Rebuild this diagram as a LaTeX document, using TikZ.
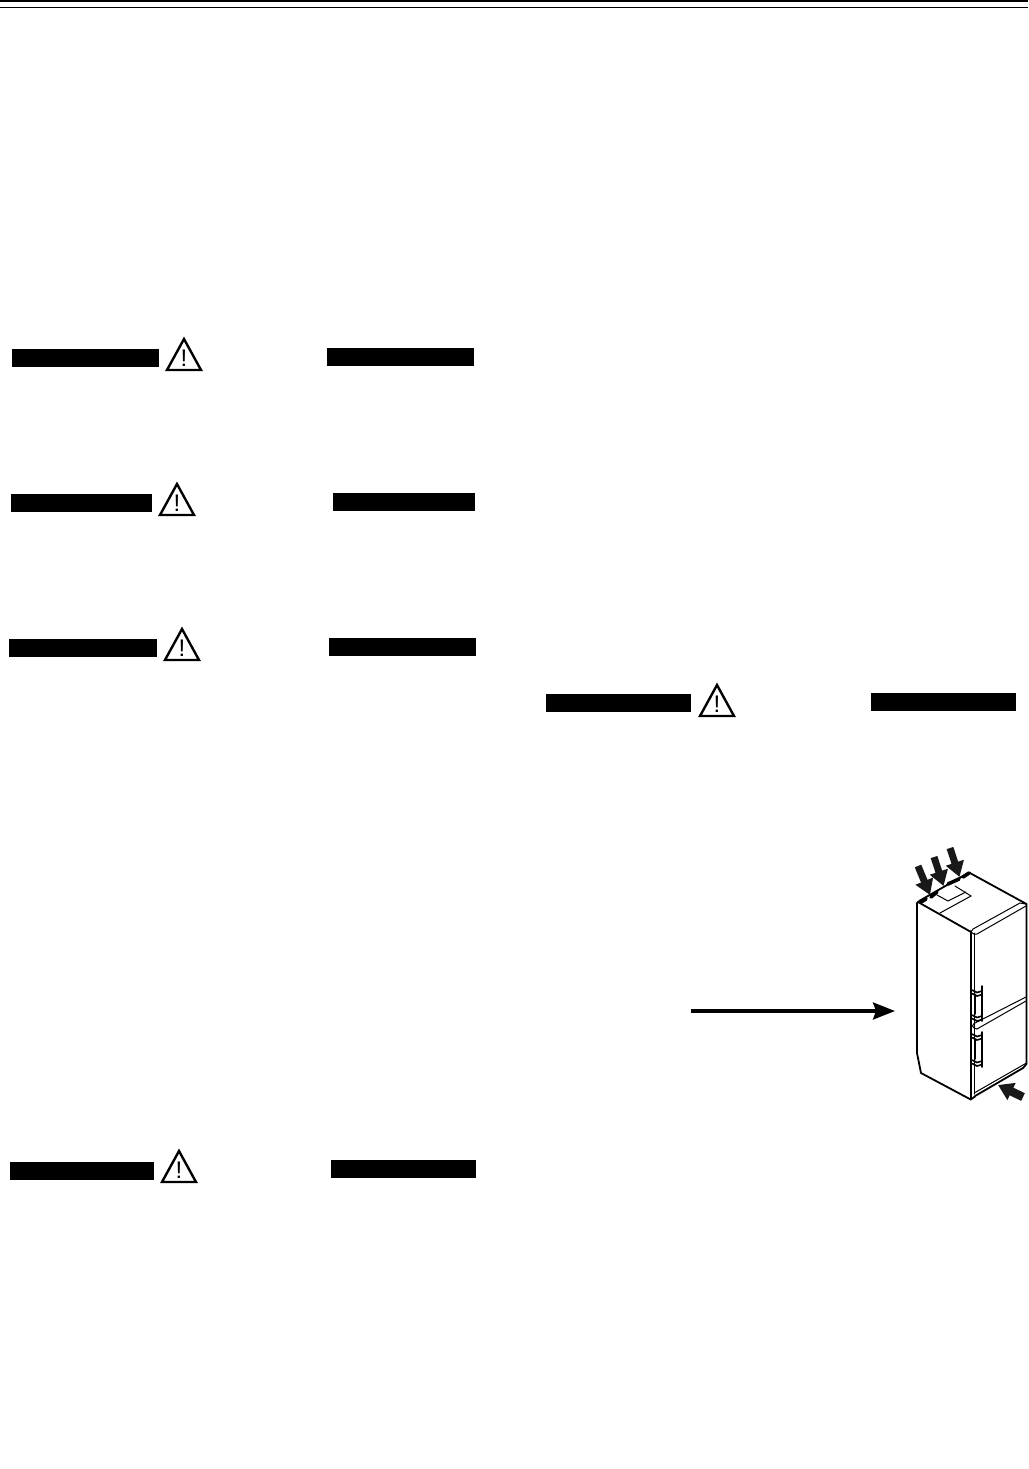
\documentclass[tikz,border=0pt]{standalone}
\usepackage{xcolor}
\usepackage{fontspec}
\setmainfont{Liberation Sans}
\usetikzlibrary{arrows.meta}
\tikzset{
 blackbar/.style={fill=black, inner sep=0pt, minimum height=18pt, anchor=north west},
 warnsign/.pic={
  \draw[line width=2.4pt, line join=miter] (0,-16) -- (17,15) -- (-17,15) -- cycle;
  \node[inner sep=0pt, font=\fontsize{24}{24}\selectfont] (-mark) at (0,3) {!};
 },
 outline/.style={line width=1.8pt, line join=round, line cap=round},
 thinline/.style={line width=1pt, line cap=round},
 hinge/.style={line width=3.6pt, line cap=round},
 pusharrow/.style={line width=7pt, -{Triangle[width=18pt,length=15pt]}, color=black!90},
}
\begin{document}
\begin{tikzpicture}[x=1pt, y=-1pt]
\useasboundingbox (0,0) rectangle (1028,1469);
\fill[white] (0,0) rectangle (1028,1469);

% page head rules
\coordinate (headL) at (0,1.2);
\coordinate (headR) at (1028,1.2);
\coordinate (subL) at (0,7.5);
\coordinate (subR) at (1028,7.5);
\draw[line width=2.4pt] (headL) -- (headR);
\draw[line width=1.1pt] (subL) -- (subR);

% left and right heading bars
\node[blackbar, minimum width=147pt] (barA) at (12,349) {};
\node[blackbar, minimum width=147pt] (barAr) at (327,348) {};
\node[blackbar, minimum width=141pt] (barB) at (11,494) {};
\node[blackbar, minimum width=142pt] (barBr) at (333,493) {};
\node[blackbar, minimum width=148pt] (barC) at (9,639) {};
\node[blackbar, minimum width=147pt] (barCr) at (329,638) {};
\node[blackbar, minimum width=145pt] (barD) at (546,694) {};
\node[blackbar, minimum width=145pt] (barDr) at (871,693) {};
\node[blackbar, minimum width=144pt] (barE) at (10,1162) {};
\node[blackbar, minimum width=145pt] (barEr) at (331,1160) {};

% warning signs
\pic (signA) at (184,355) {warnsign};
\pic (signB) at (177,500) {warnsign};
\pic (signC) at (182,645) {warnsign};
\pic (signD) at (717,701) {warnsign};
\pic (signE) at (179,1167) {warnsign};

% long arrow
\coordinate (longS) at (691,1011);
\coordinate (longE) at (895,1011);
\draw[line width=3.2pt, -{Stealth[width=17pt,length=22pt,inset=3pt]}] (longS) -- (longE);

% fridge body
\draw[outline] (917,1053) -- (917,903) -- (920,900.5) -- (969,872.5) -- (1026.5,904) -- (1026.5,1064);
\draw[outline] (917,1053) -- (921,1073) -- (970.7,1099.5) -- (975,1096.5);
\draw[outline] (971,931) -- (971,1099);
\draw[thinline] (974,933) -- (974,1094);
\draw[outline] (918,902) -- (971,932);

% top door edge
\draw[thinline] (971,932) -- (973,929) -- (1020,903) -- (1026,904);
\draw[thinline] (971,932) .. controls (973,934.5) and (975,934.5) .. (977,934) -- (1026,906);

% lid
\draw[thinline] (940,913) -- (971,896) -- (955,886);
\draw[thinline] (937,895) -- (948,901) -- (966,892);

% door gap and bottom
\draw[thinline] (1026,997) -- (974,1023.5) .. controls (972,1025) and (972,1027) .. (974,1028) -- (977,1029) -- (1026,1001);
\draw[thinline] (975,1092.5) -- (1026.5,1063);
\draw[outline] (975,1096) -- (1023,1068) -- (1026.5,1064);

% handles
\draw[outline] (982,986) -- (982,1021);
\draw[outline] (982,1032) -- (982,1067);
\draw[thinline] (975.5,994) -- (975.5,1014);
\draw[thinline] (975.5,1040) -- (975.5,1059);
\foreach \hy in {990,1015,1034,1060}
 {\draw[line width=1.6pt] (972,\hy) -- (977,\hy+2.5) -- (982,\hy+1);
  \draw[line width=1.6pt] (972,\hy+3.5) -- (977,\hy+6) -- (982,\hy+4.5);}

% hinge covers on top
\draw[hinge] (921,902) -- (926,899);
\draw[hinge] (931,897) -- (937,892);
\draw[hinge] (948,884) -- (959,879);
\draw[hinge] (963,877) -- (969,873);

% push arrows
\coordinate (pushAs) at (918,866);
\coordinate (pushAe) at (930,895);
\coordinate (pushBs) at (934,857);
\coordinate (pushBe) at (943.5,886);
\coordinate (pushCs) at (950,848);
\coordinate (pushCe) at (959.5,877);
\coordinate (pushDs) at (1023,1097);
\coordinate (pushDe) at (998,1085);
\foreach \s/\e in {pushAs/pushAe, pushBs/pushBe, pushCs/pushCe}
 \draw[pusharrow] (\s) -- (\e);
\draw[pusharrow, line width=8.5pt] (pushDs) -- (pushDe);
\end{tikzpicture}
\end{document}
